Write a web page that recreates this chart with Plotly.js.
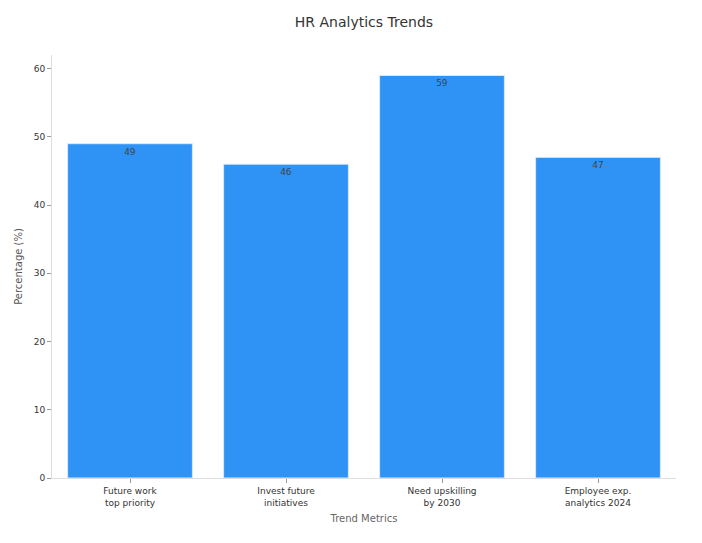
<!DOCTYPE html>
<html>
<head>
<meta charset="utf-8">
<script src="https://cdn.plot.ly/plotly-3.0.1.min.js"></script>
<style>html,body{margin:0;padding:0;background:#fff;}#chart{width:702px;height:543px;}</style>
</head>
<body>
<div id="chart"></div>
<script>
const categories = ["Future work<br>top priority", "Invest future<br>initiatives", "Need upskilling<br>by 2030", "Employee exp.<br>analytics 2024"];
const values = [49, 46, 59, 47];

const trace = {
  type: "bar",
  x: categories,
  y: values,
  text: values.map(String),
  textposition: "inside",
  insidetextanchor: "end",
  textfont: {family: "DejaVu Sans", size: 9, color: "#444"},
  marker: {color: "#2E93F5", line: {color: "#dbe9f7", width: 1}},
  width: 0.8,
  hoverinfo: "none"
};

const layout = {
  width: 702, height: 543,
  margin: {l: 52, r: 26, t: 55, b: 65},
  paper_bgcolor: "#fff", plot_bgcolor: "#fff",
  font: {family: "DejaVu Sans", color: "#333", size: 9},
  title: {text: "HR Analytics Trends", xref: "paper", x: 0.5, xanchor: "center", y: 0.96, yanchor: "middle",
          font: {family: "DejaVu Sans", size: 14, color: "#333"}},
  xaxis: {
    range: [-0.5, 3.5],
    showline: true, linecolor: "#ddd", linewidth: 1,
    ticks: "outside", ticklen: 4, tickcolor: "#999",
    showgrid: false, zeroline: false,
    tickfont: {size: 9, color: "#333"},
    title: {text: "Trend Metrics", font: {size: 10, color: "#666"}, standoff: 8}
  },
  yaxis: {
    range: [0, 62],
    tickvals: [0, 10, 20, 30, 40, 50, 60],
    showline: true, linecolor: "#ddd", linewidth: 1,
    ticks: "outside", ticklen: 4, tickcolor: "#999",
    showgrid: false, zeroline: false,
    tickfont: {size: 9, color: "#333"},
    title: {text: "Percentage (%)", font: {size: 10, color: "#555"}, standoff: 9}
  },
  showlegend: false
};

Plotly.newPlot("chart", [trace], layout, {displayModeBar: false, staticPlot: true});
</script>
</body>
</html>
